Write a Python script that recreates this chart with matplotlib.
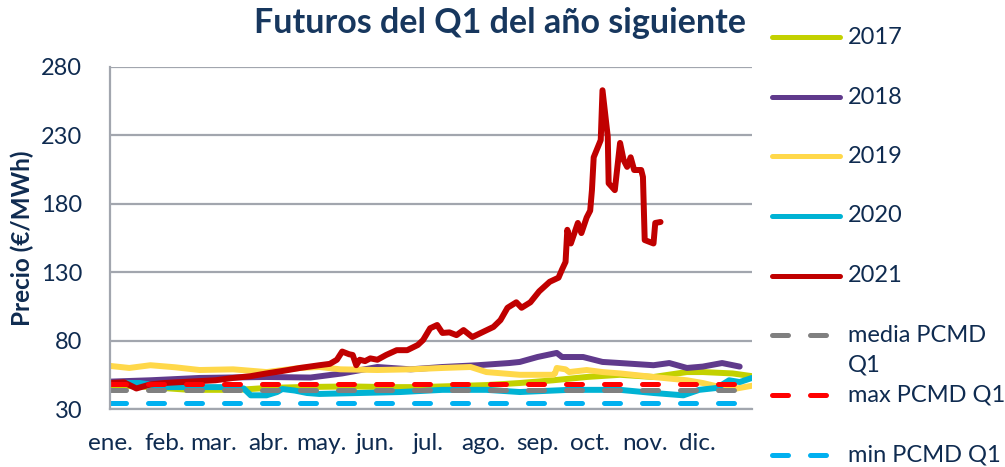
import matplotlib
matplotlib.use("Agg")
import matplotlib.pyplot as plt
from matplotlib.lines import Line2D

plt.rcParams['font.family'] = ['Lato', 'DejaVu Sans']

# ---- data (day of year, price €/MWh) ----
months = ['ene.', 'feb.', 'mar.', 'abr.', 'may.', 'jun.', 'jul.', 'ago.', 'sep.', 'oct.', 'nov.', 'dic.']
month_start_days = [1, 32, 60, 91, 121, 152, 182, 213, 244, 274, 305, 335]

d2017 = [1, 24, 46, 74, 90, 109, 137, 160, 177, 215, 234, 253, 272, 291, 310, 329, 338, 355, 366]
v2017 = [47.5, 46, 44, 44, 45.4, 46, 46.5, 46, 46, 47.5, 49, 51, 53.4, 55, 53.4, 57, 57, 56, 54]

d2018 = [1, 24, 52, 90, 115, 133, 153, 172, 190, 210, 228, 234, 244, 255, 258, 270, 281, 291, 310, 319, 329, 338, 349, 359]
v2018 = [50, 51, 52.7, 53.4, 53, 56, 60.7, 59, 60.7, 62, 63.6, 64.4, 68, 71, 68, 68, 64.4, 63.6, 62, 63.6, 60, 61, 63.6, 61]

d2019 = [1, 12, 24, 38, 52, 71, 90, 109, 120, 132, 153, 172, 190, 206, 215, 234, 253, 254, 255, 260, 262, 272, 281, 291, 310, 329, 338, 348, 353, 359, 366]
v2019 = [61.5, 60, 62, 60.5, 58.5, 59, 57, 60, 60.7, 59, 58.5, 59, 60, 60.7, 57, 55, 55, 56, 60, 59, 57, 58.5, 57, 56, 53.4, 51, 49, 46, 44, 45.4, 47]

d2020 = [1, 18, 33, 52, 71, 77, 81, 90, 96, 99, 106, 113, 120, 143, 166, 190, 215, 234, 262, 291, 310, 327, 336, 346, 353, 359, 366]
v2020 = [49, 49, 46, 46, 46, 45, 40, 40, 42.4, 44.6, 43.5, 41.7, 41, 41.7, 42.4, 44, 44, 42.4, 44, 44, 41.7, 40, 44, 45.4, 51, 49.7, 52.7]

d2021 = [1, 9, 16, 24, 32, 46, 61, 71, 81, 90, 100, 109, 120, 126, 130, 133, 137, 139, 141, 143, 146, 149, 153, 158, 164, 170,
         176, 179, 183, 187, 190, 194, 198, 202, 207, 213, 219, 223, 227, 232, 235, 240, 245, 251, 256, 258, 260, 261, 263, 267,
         269, 272, 274, 275, 276, 280, 281, 284, 284.5, 288, 291, 293, 295, 297, 299, 303, 304, 305, 310, 311, 314]
v2021 = [49, 49.5, 45, 48, 49, 50, 51, 52.7, 54, 56, 58, 60, 62, 63, 66, 72, 70, 69.5, 62, 66, 65, 67, 66, 69.5, 73, 73,
         76.8, 80.4, 89, 91.4, 85.6, 86, 84, 87.7, 82.6, 86.3, 90, 95, 104, 108, 104, 108, 116, 123, 126, 132, 137.5, 161, 151, 166,
         158.6, 170, 175, 190, 214, 226.6, 263, 229, 195, 190, 224.5, 212, 207, 214, 204.7, 204.7, 199.6, 153.5, 151, 166, 166.7]

media_pcmd = 43.6
max_pcmd = 48.5
min_pcmd = 34.3

yticks = [30, 80, 130, 180, 230, 280]

# ---- styling ----
navy = '#0f2b50'
grid_c = '#a2a6ae'
years = [
    ('2017', d2017, v2017, '#c3d100'),
    ('2018', d2018, v2018, '#603a8c'),
    ('2019', d2019, v2019, '#ffd84a'),
    ('2020', d2020, v2020, '#00b3d4'),
    ('2021', d2021, v2021, '#c00000'),
]
consts = [
    ('media PCMD\nQ1', media_pcmd, '#808080'),
    ('max PCMD Q1', max_pcmd, '#ff0000'),
    ('min PCMD Q1', min_pcmd, '#00b0f0'),
]

W, H = 1005, 467
fig = plt.figure(figsize=(W / 100, H / 100), dpi=100)
ax = fig.add_axes([110 / W, 1 - 409 / H, 642 / W, 342 / H])

solid_lw = 4.3
dash_lw = 3.6
for name, d, v, c in years:
    ax.plot(d, v, color=c, lw=solid_lw, solid_joinstyle='round', solid_capstyle='round')
for name, val, c in consts:
    ax.plot([1, 366], [val, val], color=c, lw=dash_lw, dashes=(3.2, 4.4), dash_capstyle='round')

ax.set_xlim(1, 366)
ax.set_ylim(30, 280)
ax.set_yticks(yticks)
ax.set_xticks(month_start_days)
ax.set_xticklabels(months)
ax.tick_params(axis='y', length=0, pad=20, labelsize=17, labelcolor=navy)
ax.tick_params(axis='x', length=0, pad=17, labelsize=17.5, labelcolor=navy)
ax.grid(axis='y', color=grid_c, lw=1.6)
ax.set_axisbelow(True)
for s in ['top', 'right']:
    ax.spines[s].set_visible(False)
for s in ['left', 'bottom']:
    ax.spines[s].set_color(grid_c)
    ax.spines[s].set_linewidth(1.6)

fig.text(22 / W, 1 - 238 / H, 'Precio (€/MWh)', rotation=90, ha='center', va='center',
         fontsize=17.5, fontweight='bold', color=navy)
fig.text(500 / W, 1 - 23 / H, 'Futuros del Q1 del año siguiente', ha='center', va='center',
         fontsize=24.5, fontweight='bold', color='#17375e')

# ---- legend (manual) ----
rows = [37, 97, 156, 216, 276, 335, 395, 455]
entries = [(n, c, 'solid') for n, _, _, c in years] + [(n, c, 'dash') for n, _, c in consts]
for (name, c, kind), yr in zip(entries, rows):
    yf = 1 - yr / H
    if kind == 'solid':
        ln = Line2D([772 / W, 840 / W], [yf, yf], transform=fig.transFigure, color=c, lw=dash_lw,
                    solid_capstyle='round')
    else:
        ln = Line2D([772 / W, 828 / W], [yf, yf], transform=fig.transFigure, color=c, lw=dash_lw,
                    dashes=(3.2, 4.4), dash_capstyle='round')
    fig.add_artist(ln)
    lines_txt = name.split('\n')
    for k, t in enumerate(lines_txt):
        fig.text(848 / W, 1 - (yr + 30 * k) / H, t, ha='left', va='center', fontsize=17, color=navy)

fig.savefig('out.png', dpi=100)
